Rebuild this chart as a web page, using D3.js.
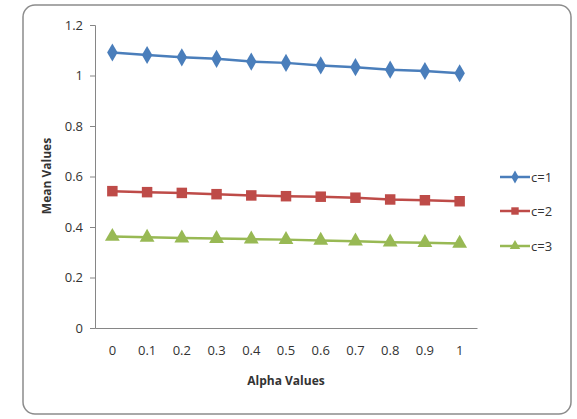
<!DOCTYPE html>
<html>
<head>
<meta charset="utf-8">
<script src="https://cdn.jsdelivr.net/npm/d3@7"></script>
<style>
  body { margin: 0; background: #fff; }
  svg { display: block; }
  text { font-family: "Open Sans", "Liberation Sans", sans-serif; fill: #333; }
</style>
</head>
<body>
<div id="chart"></div>
<script>
const width = 577;
const height = 419;

// Data
const alphas = ["0", "0.1", "0.2", "0.3", "0.4", "0.5", "0.6", "0.7", "0.8", "0.9", "1"];
const c1 = [1.091, 1.081, 1.072, 1.066, 1.055, 1.050, 1.040, 1.033, 1.023, 1.018, 1.009];
const c2 = [0.542, 0.538, 0.535, 0.530, 0.525, 0.522, 0.520, 0.516, 0.509, 0.506, 0.502];
const c3 = [0.362, 0.359, 0.356, 0.354, 0.352, 0.350, 0.347, 0.344, 0.340, 0.338, 0.335];
const yTicks = [0, 0.2, 0.4, 0.6, 0.8, 1, 1.2];

const series = [
    { name: "c=1", values: c1, color: "#4A7EBB", symbol: d3.symbolDiamond, size: 95 },
    { name: "c=2", values: c2, color: "#BE4B48", symbol: d3.symbolSquare, size: 110 },
    { name: "c=3", values: c3, color: "#98B954", symbol: d3.symbolTriangle, size: 95 }
];

const plot = { left: 95, right: 477, top: 25, bottom: 328 };

const xScale = d3.scaleBand()
    .domain(alphas)
    .range([plot.left, plot.right]);

const yScale = d3.scaleLinear()
    .domain([0, 1.2])
    .range([plot.bottom, plot.top]);

const svg = d3.select("#chart")
    .append("svg")
    .attr("width", width)
    .attr("height", height);

// Chart frame
svg.append("rect")
    .attr("x", 23).attr("y", 5)
    .attr("width", 548).attr("height", 409)
    .attr("rx", 12)
    .attr("fill", "#fff")
    .attr("stroke", "#8c8c8c")
    .attr("stroke-width", 1.5);

// Axes
const yAxis = svg.append("g")
    .attr("transform", `translate(${plot.left},0)`)
    .call(d3.axisLeft(yScale).tickValues(yTicks).tickSize(5).tickPadding(7).tickFormat(d3.format("")));

const xAxis = svg.append("g")
    .attr("transform", `translate(0,${plot.bottom})`)
    .call(d3.axisBottom(xScale).tickSize(0).tickPadding(18));

[xAxis, yAxis].forEach(g => {
    g.select(".domain").attr("stroke", "#868686");
    g.selectAll(".tick line").attr("stroke", "#868686");
    g.selectAll("text")
        .style("font-family", "'Open Sans', sans-serif")
        .style("font-size", "13px")
        .attr("fill", "#404040");
});

// Axis titles
svg.append("text")
    .attr("x", (plot.left + plot.right) / 2)
    .attr("y", 385)
    .attr("text-anchor", "middle")
    .style("font-size", "12px")
    .style("font-weight", "bold")
    .text("Alpha Values");

svg.append("text")
    .attr("transform", "translate(51,176) rotate(-90)")
    .attr("text-anchor", "middle")
    .style("font-size", "12px")
    .style("font-weight", "bold")
    .text("Mean Values");

// Lines and markers
const line = d3.line()
    .x((d, i) => xScale(alphas[i]) + xScale.bandwidth() / 2)
    .y(d => yScale(d));

series.forEach(s => {
    svg.append("path")
        .datum(s.values)
        .attr("d", line)
        .attr("fill", "none")
        .attr("stroke", s.color)
        .attr("stroke-width", 2.5);

    svg.append("g")
        .selectAll("path")
        .data(s.values)
        .join("path")
        .attr("transform", (d, i) => `translate(${xScale(alphas[i]) + xScale.bandwidth() / 2},${yScale(d)})`)
        .attr("d", d3.symbol().type(s.symbol).size(s.size))
        .attr("fill", s.color);
});

// Legend
const legend = svg.append("g")
    .selectAll("g")
    .data(series)
    .join("g")
    .attr("transform", (d, i) => `translate(500,${[177, 211, 246][i]})`);

legend.append("line")
    .attr("x1", 0).attr("x2", 30)
    .attr("stroke", d => d.color)
    .attr("stroke-width", 2.5);

legend.append("path")
    .attr("transform", "translate(15,0)")
    .attr("d", d => d3.symbol().type(d.symbol).size(d.size * 0.5)())
    .attr("fill", d => d.color);

legend.append("text")
    .attr("x", 31)
    .attr("dy", "0.35em")
    .style("font-size", "13px")
    .attr("fill", "#404040")
    .text(d => d.name);
</script>
</body>
</html>
